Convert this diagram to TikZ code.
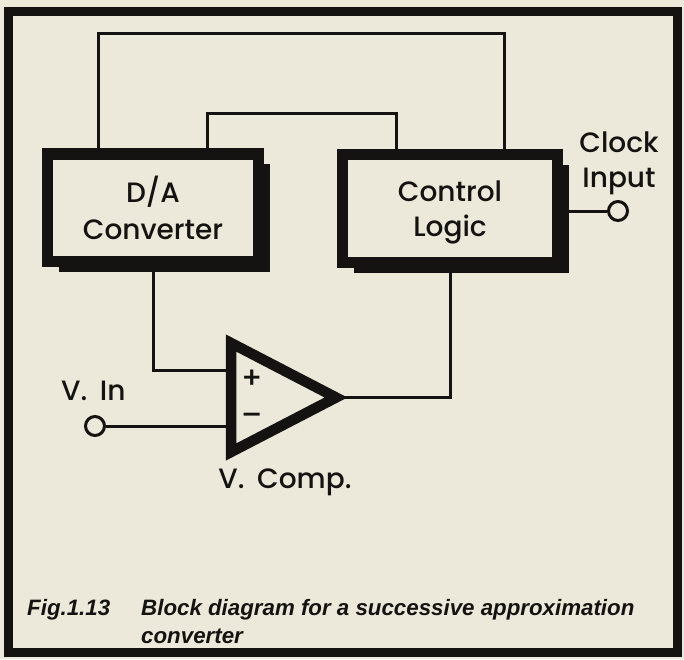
\documentclass[tikz,border=0pt]{standalone}
\usepackage{fontspec}
\setmainfont{Poppins}[UprightFont=* Medium]
\newfontfamily\capfont{Liberation Sans}
\usetikzlibrary{shadows}
\definecolor{paper}{HTML}{ECE8DA}
\definecolor{ink}{HTML}{151311}
\begin{document}
\begin{tikzpicture}[x=1pt,y=-1pt,
  wire/.style={draw=ink,line width=3pt},
  frameline/.style={draw=ink,line width=9pt},
  blockbox/.style={draw=ink,fill=paper,line width=11.5pt,inner sep=0pt,outer sep=0pt,
    align=center,text=ink,font=\fontsize{28}{37}\selectfont,
    drop shadow={shadow xshift=11pt,shadow yshift=-10pt,fill=ink,opacity=1}},
  term/.style={circle,draw=ink,fill=paper,line width=3pt,minimum size=19pt,inner sep=0pt},
  lbl/.style={font=\fontsize{28}{35}\selectfont,text=ink,inner sep=0pt,align=center},
  sign/.style={font=\fontsize{30}{30}\selectfont,text=ink,inner sep=0pt},
  captext/.style={font=\capfont\bfseries\itshape\fontsize{22.3}{28}\selectfont,text=ink,inner sep=0pt}
]
\useasboundingbox (0,0) rectangle (684,659);
\fill[paper] (0,0) rectangle (684,659);
\draw[frameline] (8,11) rectangle (677,652.5);

% comparator geometry
\coordinate (oa1) at (231,343);
\coordinate (oa2) at (231,452);
\coordinate (oout) at (336,397.5);
\coordinate (inp) at (231,370);
\coordinate (inm) at (231,426);
\coordinate (topA) at (0,33);
\coordinate (topB) at (0,113);

% blocks (positions)
\path (153,207.75) coordinate (dapos);
\path (450,208.5) coordinate (clpos);

% terminals
\node[term] (clk) at (618,211) {};
\node[term] (vin) at (95,426) {};

% helper coordinates on block tops
\coordinate (da1) at (98,154);
\coordinate (da2) at (207,154);
\coordinate (cl1) at (396,154.5);
\coordinate (cl2) at (504,154.5);

% wires
\draw[wire] (da1) -- (da1 |- topA) -- (cl2 |- topA) -- (cl2);
\draw[wire] (da2) -- (da2 |- topB) -- (cl1 |- topB) -- (cl1);
\draw[wire] (vin) -- (inm);
\draw[wire] (clk) -- (clk -| clpos);

% blocks
\node[blockbox,minimum width=211pt,minimum height=107.5pt] (da) at (dapos) {D/A\\Converter};
\node[blockbox,minimum width=215pt,minimum height=108pt] (cl) at (clpos) {\rule{0pt}{29pt}Control\\[-2pt]Logic};

\draw[wire] (da.south) |- (inp);
\draw[wire] (oout) -| (cl.south);

% comparator
\draw[draw=ink,fill=paper,line width=10.5pt,line join=miter] (oa1) -- (oa2) -- (oout) -- cycle;
\node[sign] (plus) at (252,379) {+};
\node[sign] (minus) at (252,419) {–};

% labels
\node[lbl] (clklbl) at (619,163) {Clock\\Input};
\node[lbl,anchor=base west] (vinlbl) at (61,400) {V.\hspace{0.45em}In};
\node[lbl,anchor=base] (vcomp) at (285,488) {V.\hspace{0.45em}Comp.};

% caption
\node[captext,anchor=base west] (fig) at (27,615) {Fig.1.13};
\node[captext,anchor=base west] (cap1) at (141,615) {Block diagram for a successive approximation};
\node[captext,anchor=base west] (cap2) at (141,643) {converter};
\end{tikzpicture}
\end{document}
